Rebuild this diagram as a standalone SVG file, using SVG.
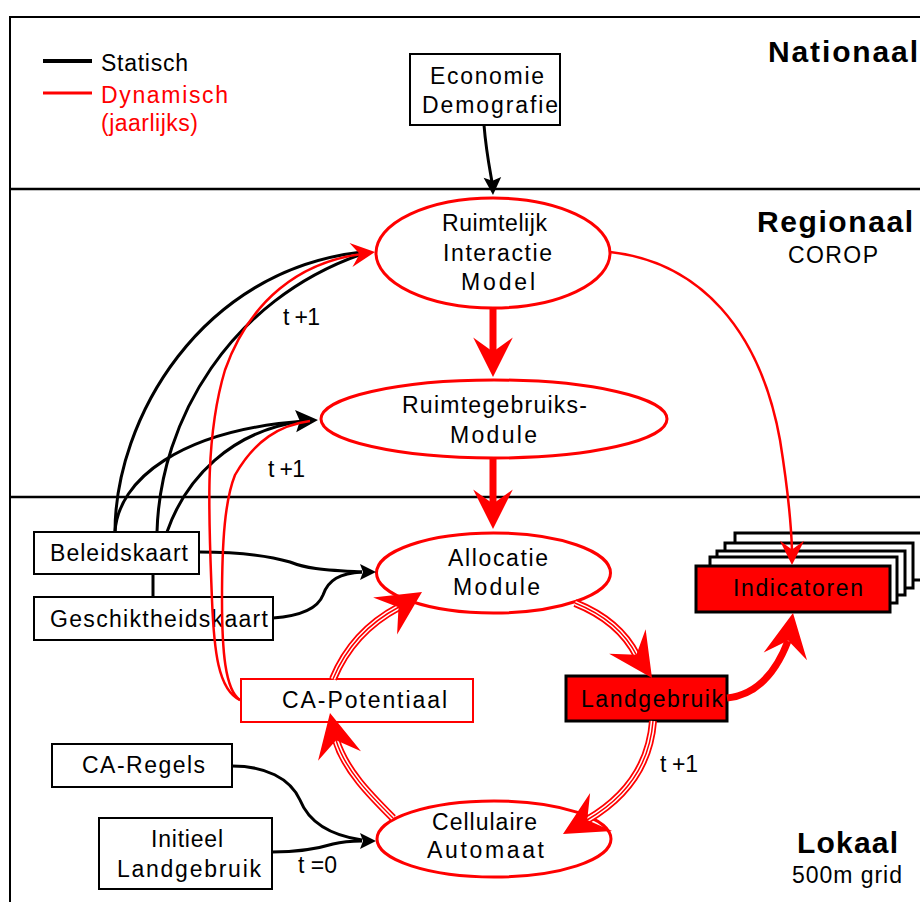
<svg xmlns="http://www.w3.org/2000/svg" xmlns:xlink="http://www.w3.org/1999/xlink" width="920" height="902" viewBox="0 0 920 902">
<style>
text{font-family:"Liberation Sans",Arial,sans-serif;font-size:23px;fill:#000}
.b{font-weight:bold;font-size:30px}
.r{fill:#f00}
.box{fill:#fff;stroke:#000;stroke-width:2}
.ell{fill:#fff;stroke:#f00;stroke-width:3}
.redbox{fill:#f00;stroke:#000;stroke-width:3}
.stk{fill:#fff;stroke:#000;stroke-width:3}
.blk{fill:none;stroke:#000;stroke-width:3}
.thin{fill:none;stroke:#f00;stroke-width:2.5}
.tr1{fill:none;stroke:#f00;stroke-width:8}
.tr2{fill:none;stroke:#fff;stroke-width:4.5}
.tr3{fill:none;stroke:#f00;stroke-width:1.5}
.fat{fill:none;stroke:#f00;stroke-width:7}
</style>
<defs>
<path id="ah" d="M0,0 L-44,-22 L-28,0 L-44,22 Z"/>
<path id="bh" d="M0,0 L-16,-8 L-13,0 L-16,8 Z"/>
</defs>
<rect width="920" height="902" fill="#fff"/>
<g id="frame" fill="none" stroke="#000">
<rect x="10" y="17" width="930" height="900" stroke-width="2"/>
<line x1="10" y1="189" x2="920" y2="189" stroke-width="2.5"/>
<line x1="10" y1="497" x2="920" y2="497" stroke-width="2.5"/>
</g>
<g id="legend">
<line x1="43" y1="61" x2="92" y2="61" stroke="#000" stroke-width="4"/>
<line x1="43" y1="93" x2="92" y2="93" stroke="#f00" stroke-width="3"/>
<text x="101" y="71" textLength="87" lengthAdjust="spacing">Statisch</text>
<text class="r" x="101" y="103" textLength="127" lengthAdjust="spacing">Dynamisch</text>
<text class="r" x="101" y="131" textLength="97" lengthAdjust="spacing">(jaarlijks)</text>
</g>
<g id="levels">
<text class="b" x="768" y="62" textLength="150" lengthAdjust="spacing">Nationaal</text>
<text class="b" x="757" y="232" textLength="156" lengthAdjust="spacing">Regionaal</text>
<text x="788" y="263" textLength="90" lengthAdjust="spacing">COROP</text>
<text class="b" x="797" y="853" textLength="101" lengthAdjust="spacing">Lokaal</text>
<text x="792" y="883" textLength="110" lengthAdjust="spacing">500m grid</text>
</g>
<g id="economie">
<rect class="box" x="410" y="54" width="150" height="71"/>
<text x="430" y="84" textLength="114" lengthAdjust="spacing">Economie</text>
<text x="422" y="113" textLength="136" lengthAdjust="spacing">Demografie</text>
</g>
<g id="rim">
<ellipse class="ell" cx="493" cy="253" rx="117" ry="55"/>
<text x="442" y="231" textLength="105" lengthAdjust="spacing">Ruimtelijk</text>
<text x="443" y="261" textLength="109" lengthAdjust="spacing">Interactie</text>
<text x="461" y="290" textLength="74" lengthAdjust="spacing">Model</text>
</g>
<g id="rum">
<ellipse class="ell" cx="494" cy="419" rx="173" ry="39"/>
<text x="402" y="413" textLength="185" lengthAdjust="spacing">Ruimtegebruiks-</text>
<text x="450" y="443" textLength="87" lengthAdjust="spacing">Module</text>
</g>
<g id="allocatie">
<ellipse class="ell" cx="493.5" cy="573" rx="117" ry="40"/>
<text x="448" y="566" textLength="100" lengthAdjust="spacing">Allocatie</text>
<text x="453" y="595" textLength="87" lengthAdjust="spacing">Module</text>
</g>
<g id="indicatoren">
<rect class="stk" x="735" y="533" width="190" height="47"/>
<rect class="stk" x="725" y="543" width="188" height="45"/>
<rect class="stk" x="717" y="551" width="188" height="44"/>
<rect class="stk" x="710" y="557" width="187" height="46"/>
<rect class="redbox" x="696" y="566" width="194" height="46"/>
<text x="733" y="596" textLength="130" lengthAdjust="spacing">Indicatoren</text>
</g>
<g id="landgebruik">
<rect class="redbox" x="566" y="676" width="161" height="45"/>
<text x="581" y="707" textLength="142" lengthAdjust="spacing">Landgebruik</text>
</g>
<g id="capotentiaal">
<rect x="241" y="679" width="232" height="43" fill="#fff" stroke="#f00" stroke-width="2"/>
<text x="282" y="708" textLength="165" lengthAdjust="spacing">CA-Potentiaal</text>
</g>
<g id="beleidskaart">
<rect class="box" x="34" y="532" width="165" height="42"/>
<text x="50" y="561" textLength="138" lengthAdjust="spacing">Beleidskaart</text>
</g>
<g id="geschiktheidskaart">
<rect class="box" x="34" y="597" width="239" height="43"/>
<text x="50" y="627" textLength="218" lengthAdjust="spacing">Geschiktheidskaart</text>
</g>
<g id="caregels">
<rect class="box" x="52" y="744" width="180" height="43"/>
<text x="82" y="773" textLength="123" lengthAdjust="spacing">CA-Regels</text>
</g>
<g id="initieel">
<rect class="box" x="99" y="818" width="173" height="71"/>
<text x="151" y="847" textLength="72" lengthAdjust="spacing">Initieel</text>
<text x="117" y="877" textLength="144" lengthAdjust="spacing">Landgebruik</text>
</g>
<g id="cellulaire">
<ellipse class="ell" cx="494" cy="839" rx="117" ry="38"/>
<text x="432" y="830" textLength="105" lengthAdjust="spacing">Cellulaire</text>
<text x="427" y="858" textLength="117" lengthAdjust="spacing">Automaat</text>
</g>
<g id="connectors">
<path class="blk" d="M484,125 C486,150 489,165 492,182"/>
<use href="#bh" transform="translate(493,195) rotate(88) scale(1.1)"/>
<path class="blk" d="M115,532 C115,420 200,270 362,252"/>
<path class="blk" d="M153,574 L153,597"/>
<path class="blk" d="M157,532 C160,420 230,300 362,254"/>
<path class="blk" d="M115,532 C118,480 180,430 305,421"/>
<path class="blk" d="M167,532 C185,480 230,430 305,421"/>
<use href="#bh" transform="translate(318,420) rotate(-3) scale(1.4)"/>
<path class="blk" d="M199,552 C240,552 270,556 290,562 C305,568 320,570 362,572"/>
<path class="blk" d="M273,618 C300,616 318,608 323,595 C328,580 340,573 362,572"/>
<use href="#bh" transform="translate(376,572) rotate(0)"/>
<path class="blk" d="M232,766 C265,766 290,778 300,800 C310,825 335,836 362,840"/>
<path class="blk" d="M272,852 C300,852 320,848 333,844 C345,841 352,841 362,841"/>
<use href="#bh" transform="translate(376,841) rotate(0)"/>
<path class="thin" d="M240,700 C218,690 214,650 212,600 C209,520 204,440 225,370 C250,300 300,262 362,254"/>
<path class="thin" d="M240,700 C225,690 222,650 222,600 C222,540 225,500 235,475 C255,440 280,425 310,421"/>
<use href="#ah" fill="#f00" transform="translate(375,252) rotate(-7) scale(0.55)"/>
<text x="283" y="325" textLength="37" lengthAdjust="spacing">t +1</text>
<text x="268" y="477" textLength="37" lengthAdjust="spacing">t +1</text>
<path class="fat" d="M493,308 L493,355"/>
<use href="#ah" fill="#f00" transform="translate(493,377) rotate(90) scale(0.9)"/>
<path class="fat" d="M493,458 L493,508"/>
<use href="#ah" fill="#f00" transform="translate(493,529) rotate(90) scale(0.9)"/>
<path class="thin" d="M610,252 C700,262 760,330 780,440 C788,490 791,520 792,550"/>
<use href="#ah" fill="#f00" transform="translate(792,565) rotate(90) scale(0.55)"/>
<g id="triple">
<path class="tr1" d="M575,603 C605,615 625,632 637,656"/>
<path class="tr2" d="M575,603 C605,615 625,632 637,656"/>
<path class="tr3" d="M575,603 C605,615 625,632 637,656"/>
<path class="tr1" d="M653,721 C650,760 630,795 587,820"/>
<path class="tr2" d="M653,721 C650,760 630,795 587,820"/>
<path class="tr3" d="M653,721 C650,760 630,795 587,820"/>
<path class="tr1" d="M393,818 C370,795 345,770 336,740"/>
<path class="tr2" d="M393,818 C370,795 345,770 336,740"/>
<path class="tr3" d="M393,818 C370,795 345,770 336,740"/>
<path class="tr1" d="M333,679 C345,650 365,625 399,607"/>
<path class="tr2" d="M333,679 C345,650 365,625 399,607"/>
<path class="tr3" d="M333,679 C345,650 365,625 399,607"/>
</g>
<use href="#ah" fill="#f00" transform="translate(652,678) rotate(56)"/>
<use href="#ah" fill="#f00" transform="translate(563,834) rotate(150)"/>
<use href="#ah" fill="#f00" transform="translate(330,713) rotate(-102.5)"/>
<use href="#ah" fill="#f00" transform="translate(422,592) rotate(-33)"/>
<path class="fat" d="M727,698 C755,695 775,675 788,641"/>
<use href="#ah" fill="#f00" transform="translate(793,613) rotate(-80)"/>
<text x="660" y="772" textLength="38" lengthAdjust="spacing">t +1</text>
<text x="298" y="873" textLength="39" lengthAdjust="spacing">t =0</text>
</g>
</svg>
